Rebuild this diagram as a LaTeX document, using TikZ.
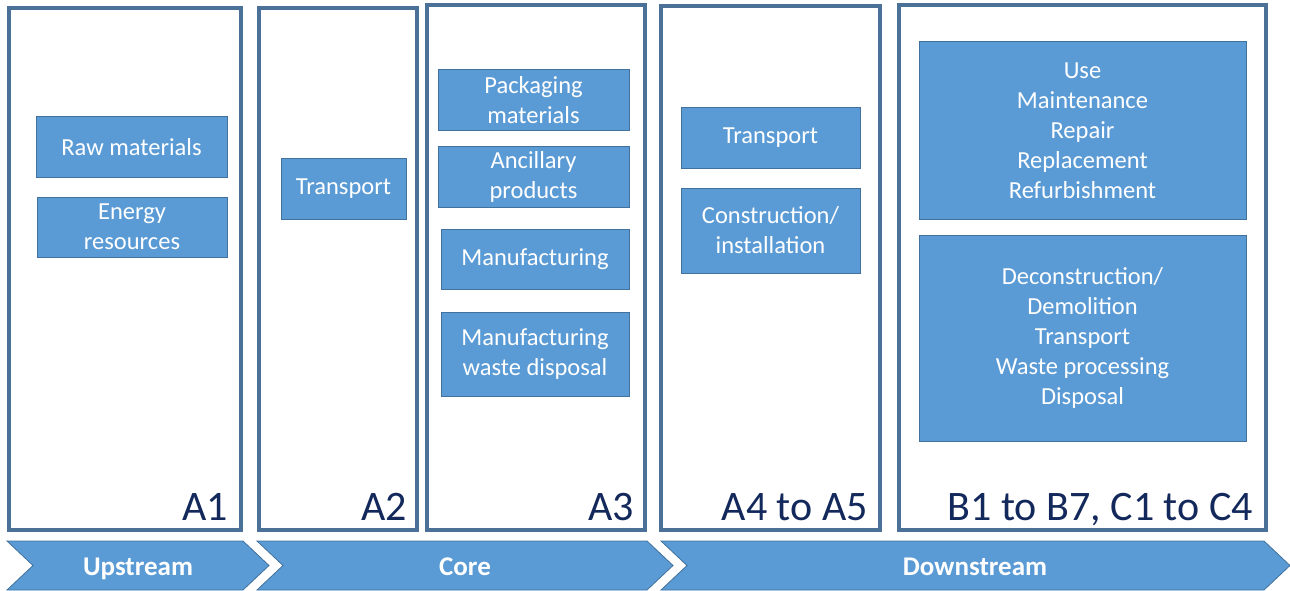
\documentclass[tikz,border=0pt]{standalone}
\usepackage{fontspec}
\setmainfont{Carlito}
\definecolor{framec}{HTML}{4C7198}
\definecolor{boxfill}{HTML}{5B9BD5}
\definecolor{boxline}{HTML}{41719C}
\definecolor{labelc}{HTML}{13285B}
\tikzset{
  frame/.style={draw=framec, line width=4pt, fill=white, inner sep=0pt, outer sep=0pt},
  box/.style={draw=boxline, line width=1pt, fill=boxfill, text=white, align=center,
    inner sep=0pt, outer sep=0pt, font=\fontsize{24.5}{30}\selectfont},
  phase/.style={font=\fontsize{42}{42}\selectfont, text=labelc, inner sep=0pt, anchor=base east},
  chev/.style={draw=boxline, line width=0.8pt, fill=boxfill},
  chevtext/.style={text=white, font=\bfseries\fontsize{27}{27}\selectfont, inner sep=0pt, anchor=base}
}
\begin{document}
\begin{tikzpicture}[x=1pt,y=-1pt]
\useasboundingbox (0,0) rectangle (1290,591);
% frames
\node[frame, minimum width=232, minimum height=522] (f1) at (125,269) {};
\node[frame, minimum width=158, minimum height=522] (f2) at (338,269) {};
\node[frame, minimum width=218, minimum height=525] (f3) at (536,267.5) {};
\node[frame, minimum width=219, minimum height=524] (f4) at (770.5,268) {};
\node[frame, minimum width=367, minimum height=525] (f5) at (1082.5,267.5) {};
% A1
\node[box, minimum width=191, minimum height=60] (raw) at (131.5,147) {Raw materials};
\node[box, minimum width=190, minimum height=60] (energy) at (132,227) {Energy\\resources};
% A2
\node[box, minimum width=125, minimum height=61] (tr2) at (343.5,188.5) {Transport};
% A3
\node[box, minimum width=191, minimum height=61] (pack) at (533.5,100.5) {Packaging\\materials};
\node[box, minimum width=191, minimum height=60] (anc) at (533.5,177) {Ancillary\\products};
\node[box, minimum width=188, minimum height=60] (manu) at (535,259) {Manufacturing};
\node[box, minimum width=188, minimum height=84] (waste) at (535,354) {Manufacturing\\waste disposal};
% A4-A5
\node[box, minimum width=179, minimum height=60] (tr4) at (770.5,138) {Transport};
\node[box, minimum width=179, minimum height=85] (cons) at (770.5,230.5) {Construction/\\installation};
% B, C
\node[box, minimum width=327, minimum height=177] (use) at (1082.5,130.5) {Use\\Maintenance\\Repair\\Replacement\\Refurbishment};
\node[box, minimum width=327, minimum height=206] (decon) at (1082.5,338) {Deconstruction/\\Demolition\\Transport\\Waste processing\\Disposal};
% phase labels
\node[phase] (l1) at (228,520) {A1};
\node[phase] (l2) at (407,520) {A2};
\node[phase] (l3) at (634,520) {A3};
\node[phase] (l4) at (868,520) {A4 to A5};
\node[phase] (l5) at (1253,520) {B1 to B7, C1 to C4};
% chevrons
\draw[chev] (7,541) -- (243,541) -- (269,565.5) -- (243,590) -- (7,590) -- (33,565.5) -- cycle;
\draw[chev] (257,541) -- (647,541) -- (673,565.5) -- (647,590) -- (257,590) -- (283,565.5) -- cycle;
\draw[chev] (661,541) -- (1264,541) -- (1290,565.5) -- (1264,590) -- (661,590) -- (687,565.5) -- cycle;
\node[chevtext] (up) at (138,575) {Upstream};
\node[chevtext] (core) at (465,575) {Core};
\node[chevtext] (down) at (975,575) {Downstream};
\end{tikzpicture}
\end{document}
